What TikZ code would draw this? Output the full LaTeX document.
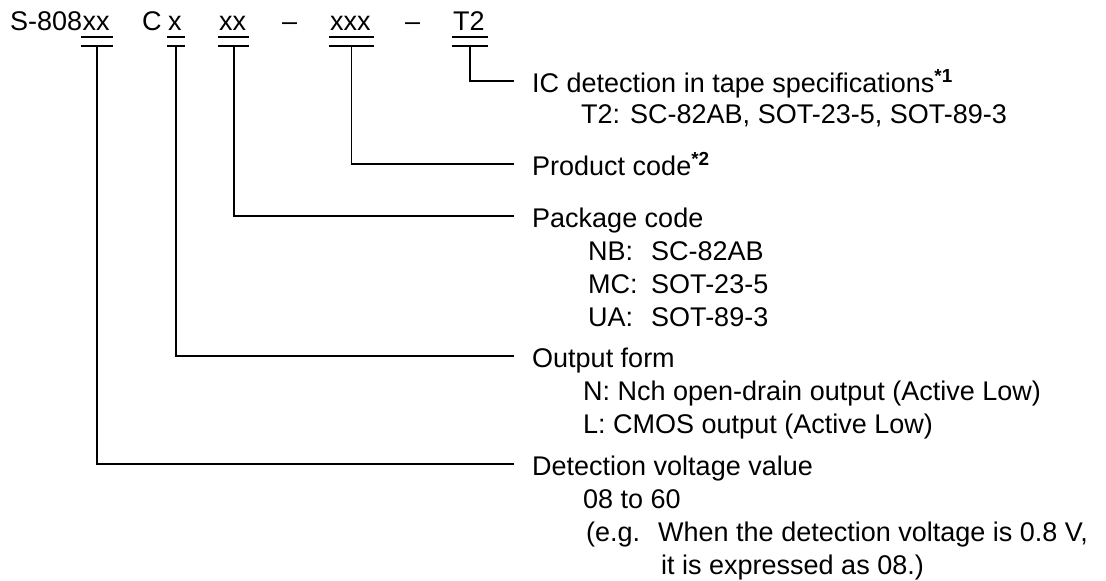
\documentclass[tikz,border=0pt]{standalone}
\usepackage{fontspec}
\setmainfont{Liberation Sans}
\usetikzlibrary{positioning, calc}

\tikzset{
  txt/.style={inner sep=0pt, anchor=base west, font=\fontsize{27}{32}\selectfont},
  codetxt/.style={inner sep=0pt, anchor=base west, font=\fontsize{27}{32}\selectfont},
  leader/.style={line width=1.7pt},
}

\begin{document}
\begin{tikzpicture}[x=1pt, y=-1pt]
                \useasboundingbox (0,0) rectangle (1106,581);
                % Code string
                \node[codetxt] (sbase) at (10,30) {S-808};
                \node[codetxt] (cvolt) at (sbase.base east) {xx};
                \node[codetxt] (cc) at (142,30) {C};
                \node[codetxt] (cout) at (168,30) {x};
                \node[codetxt] (cpkg) at (219,30) {xx};
                \node[codetxt] (dasha) at (282,30) {–};
                \node[codetxt] (cprod) at (330,30) {xxx};
                \node[codetxt] (dashb) at (405,30) {–};
                \node[codetxt] (ctape) at (453,30) {T2};
                % Double underlines
                \foreach \c in {cvolt, cout, cpkg, cprod, ctape} {
                    \draw[leader] ([xshift=-1pt,yshift=-7pt]\c.south west) -- ([xshift=3pt,yshift=-7pt]\c.south east);
                    \draw[leader] ([xshift=-1pt,yshift=-16pt]\c.south west) -- ([xshift=3pt,yshift=-16pt]\c.south east);
                }
                % Descriptions
                \node[txt] (dtape) at (532,92) {IC detection in tape specifications\textsuperscript{\textbf{*1}}};
                \node[txt] (dtapea) at (581,123) {T2: SC-82AB, SOT-23-5, SOT-89-3};
                \node[txt] (dprod) at (532,175) {Product code\textsuperscript{\textbf{*2}}};
                \node[txt] (dpkg) at (532,227) {Package code};
                \node[txt] (dpkga) at (588,260) {\makebox[63pt][l]{NB:}SC-82AB};
                \node[txt] (dpkgb) at (588,293) {\makebox[63pt][l]{MC:}SOT-23-5};
                \node[txt] (dpkgc) at (588,326) {\makebox[63pt][l]{UA:}SOT-89-3};
                \node[txt] (dout) at (532,367) {Output form};
                \node[txt] (douta) at (583,400) {N: Nch open-drain output (Active Low)};
                \node[txt] (doutb) at (583,433) {L: CMOS output (Active Low)};
                \node[txt] (dvolt) at (532,475) {Detection voltage value};
                \node[txt] (dvolta) at (583,508) {08 to 60};
                \node[txt] (dvoltb) at (586,541) {\makebox[72pt][l]{(e.g.}When the detection voltage is 0.8 V,};
                \node[txt] (dvoltc) at (661,574) {it is expressed as 08.)};
                % Leader lines
                \foreach \c/\d in {cvolt/dvolt, cout/dout, cpkg/dpkg, cprod/dprod, ctape/dtape}
                    \draw[leader] ([xshift=1pt,yshift=-16pt]\c.south) |- ([xshift=-18pt,yshift=11pt]\d.base west);
            \end{tikzpicture}
\end{document}
